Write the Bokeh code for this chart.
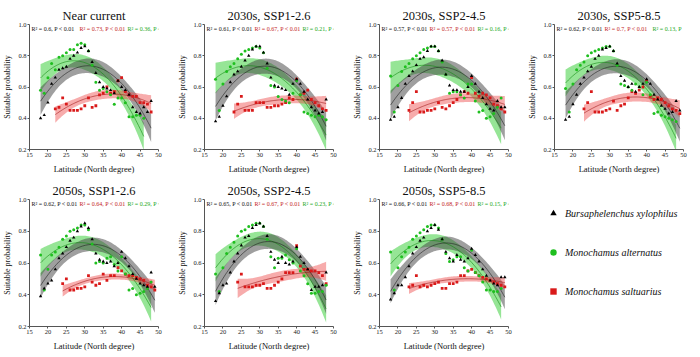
import numpy as np
from bokeh.plotting import figure
from bokeh.layouts import row, column
from bokeh.models import Range1d, FixedTicker, Label, Legend, LegendItem
from bokeh.embed import file_html
from bokeh.resources import INLINE

# ---------------- data ----------------
panel_titles = ["Near current", "2030s, SSP1-2.6", "2030s, SSP2-4.5", "2030s, SSP5-8.5",
                "2050s, SSP1-2.6", "2050s, SSP2-4.5", "2050s, SSP5-8.5"]

species = ["Bursaphelenchus xylophilus", "Monochamus alternatus", "Monochamus saltuarius"]

x_ticks = [15, 20, 25, 30, 35, 40, 45, 50]
y_ticks = [0.2, 0.4, 0.6, 0.8, 1.0]
y_tick_labels = ["0.2", "0.4", "0.6", "0.8", "1.0"]

# first latitude (degree) of each series, per panel
bx_start = [18, 18, 18, 18, 18, 18, 18]
ma_start = [18, 18, 18, 18, 18, 18, 18]
ms_start = [22, 23, 23, 23, 24, 24, 23]

# B. xylophilus
bx_near = [0.40, 0.42, 0.50, 0.62, 0.66, 0.71, 0.72, 0.73, 0.78, 0.80, 0.82, 0.85, 0.86, 0.83, 0.76, 0.69,
           0.63, 0.60, 0.59, 0.58, 0.56, 0.64, 0.60, 0.58, 0.55, 0.47, 0.44, 0.43, 0.47, 0.44, 0.51]
bx_30_126 = [0.38, 0.41, 0.48, 0.54, 0.63, 0.68, 0.70, 0.73, 0.77, 0.80, 0.84, 0.86, 0.86, 0.82, 0.75, 0.66,
             0.61, 0.60, 0.59, 0.58, 0.55, 0.62, 0.65, 0.62, 0.57, 0.52, 0.47, 0.45, 0.43, 0.44, 0.52]
bx_30_245 = [0.39, 0.41, 0.47, 0.53, 0.62, 0.67, 0.70, 0.74, 0.78, 0.79, 0.83, 0.86, 0.86, 0.83, 0.77, 0.68,
             0.61, 0.58, 0.58, 0.57, 0.57, 0.60, 0.67, 0.62, 0.57, 0.53, 0.49, 0.46, 0.45, 0.51, 0.47, 0.47]
bx_30_585 = [0.39, 0.41, 0.49, 0.55, 0.62, 0.66, 0.70, 0.73, 0.78, 0.80, 0.84, 0.85, 0.86, 0.83, 0.75, 0.67,
             0.64, 0.60, 0.62, 0.57, 0.60, 0.62, 0.65, 0.62, 0.55, 0.52, 0.48, 0.46, 0.43, 0.44, 0.51, 0.45]
bx_50_126 = [0.39, 0.44, 0.47, 0.49, 0.56, 0.63, 0.66, 0.70, 0.74, 0.76, 0.80, 0.83, 0.85, 0.82, 0.75, 0.66,
             0.62, 0.61, 0.60, 0.61, 0.58, 0.60, 0.67, 0.63, 0.58, 0.53, 0.50, 0.47, 0.46, 0.45, 0.54, 0.45]
bx_50_245 = [0.36, 0.41, 0.46, 0.47, 0.54, 0.61, 0.66, 0.71, 0.76, 0.77, 0.82, 0.84, 0.85, 0.83, 0.77, 0.67,
             0.62, 0.60, 0.64, 0.60, 0.59, 0.61, 0.70, 0.64, 0.60, 0.56, 0.43, 0.45, 0.45, 0.46, 0.54]
bx_50_585 = [0.37, 0.41, 0.46, 0.46, 0.51, 0.58, 0.66, 0.70, 0.74, 0.76, 0.80, 0.82, 0.84, 0.81, 0.75, 0.67,
             0.63, 0.61, 0.65, 0.62, 0.61, 0.63, 0.69, 0.65, 0.61, 0.56, 0.52, 0.49, 0.47, 0.46, 0.51, 0.51]

# M. alternatus
ma_near = [0.58, 0.56, 0.66, 0.75, 0.71, 0.79, 0.80, 0.82, 0.84, 0.84, 0.87, 0.88, 0.87, 0.83, 0.74, 0.63,
           0.58, 0.59, 0.57, 0.55, 0.49, 0.53, 0.53, 0.50, 0.41, 0.41, 0.42, 0.42, 0.40]
ma_30_126 = [0.65, 0.45, 0.62, 0.70, 0.73, 0.75, 0.78, 0.81, 0.83, 0.84, 0.85, 0.86, 0.85, 0.82, 0.72, 0.61,
             0.60, 0.54, 0.52, 0.51, 0.50, 0.56, 0.64, 0.55, 0.44, 0.43, 0.42, 0.41, 0.42, 0.41, 0.39]
ma_30_245 = [0.67, 0.44, 0.61, 0.70, 0.73, 0.75, 0.78, 0.80, 0.82, 0.84, 0.85, 0.86, 0.86, 0.83, 0.76, 0.68,
             0.56, 0.57, 0.57, 0.55, 0.53, 0.62, 0.62, 0.51, 0.44, 0.45, 0.40, 0.41, 0.43, 0.47, 0.53]
ma_30_585 = [0.59, 0.44, 0.62, 0.71, 0.74, 0.76, 0.80, 0.82, 0.83, 0.84, 0.85, 0.86, 0.86, 0.83, 0.74, 0.62,
             0.61, 0.60, 0.58, 0.62, 0.60, 0.55, 0.63, 0.55, 0.43, 0.44, 0.42, 0.41, 0.40, 0.39, 0.38]
ma_50_126 = [0.65, 0.43, 0.56, 0.65, 0.67, 0.70, 0.75, 0.77, 0.80, 0.81, 0.82, 0.84, 0.84, 0.81, 0.72, 0.60,
             0.61, 0.60, 0.63, 0.64, 0.59, 0.55, 0.64, 0.53, 0.43, 0.44, 0.40, 0.41, 0.42, 0.44, 0.48]
ma_50_245 = [0.53, 0.42, 0.57, 0.66, 0.70, 0.73, 0.77, 0.80, 0.81, 0.83, 0.84, 0.85, 0.85, 0.83, 0.75, 0.64,
             0.57, 0.63, 0.63, 0.65, 0.62, 0.60, 0.69, 0.55, 0.52, 0.47, 0.41, 0.41, 0.42, 0.42, 0.46]
ma_50_585 = [0.67, 0.43, 0.57, 0.64, 0.67, 0.70, 0.75, 0.77, 0.79, 0.81, 0.83, 0.84, 0.84, 0.82, 0.75, 0.66,
             0.61, 0.62, 0.64, 0.64, 0.57, 0.55, 0.68, 0.54, 0.52, 0.48, 0.43, 0.43, 0.42, 0.42, 0.44]

# M. saltuarius
ms_near = [0.46, 0.47, 0.53, 0.49, 0.45, 0.45, 0.45, 0.46, 0.48, 0.53, 0.47, 0.48, 0.55, 0.56, 0.60, 0.56,
           0.57, 0.64, 0.66, 0.57, 0.55, 0.54, 0.54, 0.50, 0.50, 0.49, 0.44]
ms_30_126 = [0.44, 0.49, 0.54, 0.45, 0.45, 0.45, 0.50, 0.50, 0.50, 0.47, 0.47, 0.48, 0.48, 0.49, 0.50, 0.53,
             0.52, 0.65, 0.55, 0.56, 0.58, 0.52, 0.50, 0.48, 0.46, 0.45]
ms_30_245 = [0.45, 0.50, 0.57, 0.44, 0.44, 0.45, 0.45, 0.46, 0.50, 0.47, 0.46, 0.48, 0.50, 0.52, 0.55, 0.57,
             0.56, 0.66, 0.56, 0.54, 0.56, 0.55, 0.53, 0.49, 0.48, 0.46, 0.44]
ms_30_585 = [0.46, 0.50, 0.57, 0.44, 0.44, 0.44, 0.45, 0.46, 0.51, 0.45, 0.48, 0.49, 0.53, 0.57, 0.56, 0.58,
             0.60, 0.64, 0.54, 0.52, 0.53, 0.52, 0.50, 0.48, 0.46, 0.45, 0.43]
ms_50_126 = [0.47, 0.50, 0.43, 0.43, 0.44, 0.44, 0.45, 0.52, 0.48, 0.46, 0.47, 0.53, 0.49, 0.52, 0.52, 0.57,
             0.55, 0.53, 0.52, 0.52, 0.51, 0.50, 0.49, 0.46, 0.45, 0.43]
ms_50_245 = [0.48, 0.53, 0.45, 0.45, 0.45, 0.46, 0.46, 0.47, 0.44, 0.44, 0.46, 0.48, 0.50, 0.54, 0.54, 0.54,
             0.71, 0.58, 0.56, 0.56, 0.55, 0.55, 0.54, 0.52, 0.47]
ms_50_585 = [0.45, 0.46, 0.52, 0.45, 0.46, 0.45, 0.46, 0.47, 0.48, 0.44, 0.44, 0.47, 0.47, 0.48, 0.52, 0.52,
             0.55, 0.56, 0.54, 0.52, 0.51, 0.50, 0.49, 0.48, 0.47, 0.46, 0.45]

bx_values = [bx_near, bx_30_126, bx_30_245, bx_30_585, bx_50_126, bx_50_245, bx_50_585]
ma_values = [ma_near, ma_30_126, ma_30_245, ma_30_585, ma_50_126, ma_50_245, ma_50_585]
ms_values = [ms_near, ms_30_126, ms_30_245, ms_30_585, ms_50_126, ms_50_245, ms_50_585]

# fit statistics shown in each panel (B. xylophilus, M. saltuarius, M. alternatus)
stat_bx = ["R² = 0.6, P < 0.01", "R² = 0.61, P < 0.01", "R² = 0.57, P < 0.01", "R² = 0.62, P < 0.01",
           "R² = 0.62, P < 0.01", "R² = 0.65, P < 0.01", "R² = 0.66, P < 0.01"]
stat_ms = ["R² = 0.73, P < 0.01", "R² = 0.67, P < 0.01", "R² = 0.57, P < 0.01", "R² = 0.7, P < 0.01",
           "R² = 0.64, P < 0.01", "R² = 0.67, P < 0.01", "R² = 0.68, P < 0.01"]
stat_ma = ["R² = 0.36, P = 0.02", "R² = 0.21, P = 0.02", "R² = 0.16, P = 0.04", "R² = 0.13, P",
           "R² = 0.29, P < 0.01", "R² = 0.23, P = 0.02", "R² = 0.15, P = 0.07"]

# ---------------- styling ----------------
SERIF = "Liberation Serif"
C_BX, C_MA, C_MS = "#000000", "#1fbf1f", "#d91a1a"
BAND_BX, BAND_MA, BAND_MS = "#404040", "#2ecc2e", "#ee4848"
LINE_BX, LINE_MA, LINE_MS = "#222222", "#138a13", "#a01818"
TXT_BX, TXT_MA, TXT_MS = "#111111", "#22a822", "#c41e1e"

FIG_W = 175
FRAME_W = FIG_W - 29 - 17


def quad_fit(x, y, n=80, t=2.05):
    x = np.asarray(x, float)
    y = np.asarray(y, float)
    xc = x.mean()
    X = np.column_stack([np.ones_like(x), x - xc, (x - xc) ** 2])
    beta, *_ = np.linalg.lstsq(X, y, rcond=None)
    resid = y - X @ beta
    s2 = resid @ resid / (len(x) - 3)
    cov = s2 * np.linalg.inv(X.T @ X)
    gx = np.linspace(x.min(), x.max(), n)
    G = np.column_stack([np.ones_like(gx), gx - xc, (gx - xc) ** 2])
    fit = G @ beta
    se = np.sqrt(np.einsum("ij,jk,ik->i", G, cov, G))
    return gx, fit, fit - t * se, fit + t * se


def make_panel(i, top, bottom):
    p = figure(width=FIG_W, height=top + 129 + bottom,
               x_range=Range1d(15, 50), y_range=Range1d(0.2, 1.0),
               output_backend="svg", toolbar_location=None,
               min_border_left=29, min_border_right=17,
               min_border_top=top, min_border_bottom=bottom,
               title=panel_titles[i])
    p.title.text_font = SERIF
    p.title.text_font_size = "12.5px"
    p.title.text_font_style = "normal"
    p.title.align = "center"
    p.title.standoff = 3
    p.title.text_color = "#111111"
    p.grid.visible = False
    p.outline_line_color = None
    p.background_fill_color = "white"

    p.xaxis.ticker = FixedTicker(ticks=x_ticks)
    p.yaxis.ticker = FixedTicker(ticks=y_ticks)
    p.yaxis.major_label_overrides = {t: l for t, l in zip(y_ticks, y_tick_labels)}
    for ax in (p.xaxis, p.yaxis):
        ax.axis_line_color = "#555555"
        ax.major_tick_line_color = "#555555"
        ax.major_tick_out = 2
        ax.major_tick_in = 0
        ax.minor_tick_out = 0
        ax.minor_tick_in = 0
        ax.major_label_text_font = SERIF
        ax.major_label_text_font_size = "6.5px"
        ax.major_label_text_color = "#222222"
        ax.major_label_standoff = 1
        ax.axis_label_text_font = SERIF
        ax.axis_label_text_font_style = "normal"
        ax.axis_label_text_color = "#111111"
    p.xaxis.axis_label = "Latitude (North degree)"
    p.xaxis.axis_label_text_font_size = "8.5px"
    p.xaxis.axis_label_standoff = 4
    p.yaxis.axis_label = "Suitable probability"
    p.yaxis.axis_label_text_font_size = "8px"
    p.yaxis.axis_label_standoff = 3

    series = [
        (ma_start[i], ma_values[i], BAND_MA, LINE_MA, 0.5),
        (bx_start[i], bx_values[i], BAND_BX, LINE_BX, 0.5),
        (ms_start[i], ms_values[i], BAND_MS, LINE_MS, 0.45),
    ]
    fits = []
    for start, vals, band, line, alpha in series:
        lat = np.arange(start, start + len(vals))
        gx, fit, lo, hi = quad_fit(lat, vals)
        p.varea(x=gx, y1=lo, y2=hi, fill_color=band, fill_alpha=alpha)
        fits.append((gx, fit, line))
    for gx, fit, line in fits:
        p.line(gx, fit, line_color=line, line_width=0.6)

    lat_bx = np.arange(bx_start[i], bx_start[i] + len(bx_values[i]))
    lat_ma = np.arange(ma_start[i], ma_start[i] + len(ma_values[i]))
    lat_ms = np.arange(ms_start[i], ms_start[i] + len(ms_values[i]))
    p.scatter(lat_ms, ms_values[i], marker="square", size=2.8, fill_color=C_MS, line_color=None)
    p.scatter(lat_ma, ma_values[i], marker="circle", size=3.0, fill_color=C_MA, line_color=None)
    p.scatter(lat_bx, bx_values[i], marker="triangle", size=3.4, fill_color=C_BX, line_color=None)

    ytxt = 1.0 - 4.5 / 129 * 0.8
    for off, txt, col in ((2, stat_bx[i], TXT_BX), (50, stat_ms[i], TXT_MS), (98, stat_ma[i], TXT_MA)):
        p.add_layout(Label(x=15 + off * 35.0 / FRAME_W, y=ytxt, text=txt,
                           text_font=SERIF, text_font_size="6px", text_color=col,
                           text_baseline="middle", text_align="left"))
    return p


row1 = [make_panel(i, 24, 23) for i in range(4)]
row2 = [make_panel(i, 23, 25) for i in range(4, 7)]

# legend panel
lg = figure(width=FIG_W, height=23 + 129 + 25, x_range=Range1d(0, 1), y_range=Range1d(0, 1),
            output_backend="svg", toolbar_location=None,
            min_border_left=0, min_border_right=0, min_border_top=0, min_border_bottom=0)
lg.axis.visible = False
lg.grid.visible = False
lg.outline_line_color = None
# legend proxies (kept outside the visible range)
r_bx = lg.scatter([-1], [-1], marker="triangle", fill_color=C_BX, line_color=None)
r_ma = lg.scatter([-1], [-1], marker="circle", fill_color=C_MA, line_color=None)
r_ms = lg.scatter([-1], [-1], marker="square", fill_color=C_MS, line_color=None)
legend = Legend(items=[LegendItem(label=species[0], renderers=[r_bx]),
                       LegendItem(label=species[1], renderers=[r_ma]),
                       LegendItem(label=species[2], renderers=[r_ms])],
                location=(20, 27), orientation="vertical",
                glyph_width=16, glyph_height=16, label_height=16, spacing=23,
                label_standoff=4, padding=0, margin=0,
                border_line_color=None, background_fill_alpha=0,
                label_text_font=SERIF, label_text_font_style="italic",
                label_text_font_size="10px", label_text_color="#111111")
lg.add_layout(legend, "center")

layout = column(row(*row1), row(*row2, lg))

open("out.html", "w").write(file_html(layout, INLINE))
